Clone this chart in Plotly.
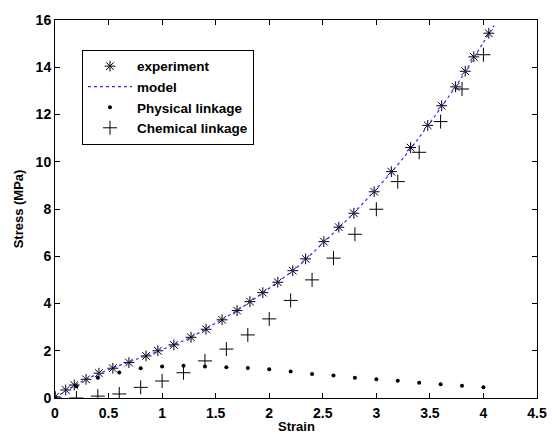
import plotly.graph_objects as go

# experiment (asterisks)
exp_strain = [0.0, 0.1, 0.18, 0.29, 0.41, 0.54, 0.69, 0.85, 0.96, 1.11, 1.27, 1.41, 1.56, 1.70,
              1.82, 1.94, 2.08, 2.22, 2.34, 2.51, 2.65, 2.79, 2.98, 3.14, 3.32, 3.48, 3.61,
              3.74, 3.83, 3.91, 4.05]
exp_stress = [0.05, 0.34, 0.55, 0.79, 1.05, 1.26, 1.50, 1.78, 2.0, 2.25, 2.57, 2.91, 3.31, 3.70,
              4.08, 4.46, 4.90, 5.39, 5.89, 6.62, 7.23, 7.82, 8.73, 9.58, 10.6, 11.54, 12.37,
              13.17, 13.83, 14.44, 15.44]

# model (dotted line)
model_strain = [0.0, 0.25, 0.5, 0.75, 1.0, 1.25, 1.5, 1.75, 2.0, 2.25, 2.5, 2.75, 3.0, 3.25,
                3.5, 3.75, 4.0, 4.1]
model_stress = [0.0, 0.70, 1.20, 1.62, 2.05, 2.53, 3.17, 3.85, 4.65, 5.50, 6.55, 7.65, 8.85,
                10.15, 11.65, 13.25, 15.05, 15.76]

# physical linkage (dots)
phys_strain = [0.0, 0.2, 0.4, 0.6, 0.8, 1.0, 1.2, 1.4, 1.6, 1.8, 2.0, 2.2, 2.4, 2.6, 2.8, 3.0,
               3.2, 3.4, 3.6, 3.8, 4.0]
phys_stress = [0.0, 0.5, 0.86, 1.08, 1.26, 1.33, 1.36, 1.33, 1.30, 1.27, 1.22, 1.12, 1.02, 0.95,
               0.86, 0.79, 0.73, 0.65, 0.58, 0.52, 0.45]

# chemical linkage (crosses)
chem_strain = [0.0, 0.2, 0.4, 0.6, 0.8, 1.0, 1.2, 1.4, 1.6, 1.8, 2.0, 2.2, 2.4, 2.6, 2.8, 3.0,
               3.2, 3.4, 3.6, 3.8, 4.0]
chem_stress = [0.0, 0.0, 0.08, 0.17, 0.45, 0.72, 1.07, 1.57, 2.07, 2.67, 3.35, 4.13, 5.0, 5.92,
               6.93, 7.99, 9.16, 10.4, 11.7, 13.08, 14.53]

x_ticks = [0, 0.5, 1, 1.5, 2, 2.5, 3, 3.5, 4, 4.5]
y_ticks = [0, 2, 4, 6, 8, 10, 12, 14, 16]

FONT = "Liberation Sans, Arial"

fig = go.Figure()
fig.add_trace(go.Scatter(x=exp_strain, y=exp_stress, mode="markers", name="experiment",
                         marker=dict(symbol="asterisk-open", size=9, color="black",
                                     line=dict(color="black", width=1))))
fig.add_trace(go.Scatter(x=model_strain, y=model_stress, mode="lines", name="model",
                         line=dict(color="#2b2bff", width=1.2, dash="dot", shape="spline")))
fig.add_trace(go.Scatter(x=phys_strain, y=phys_stress, mode="markers", name="Physical linkage",
                         marker=dict(symbol="circle", size=4, color="black")))
fig.add_trace(go.Scatter(x=chem_strain, y=chem_stress, mode="markers", name="Chemical linkage",
                         marker=dict(symbol="cross-thin-open", size=10, color="black",
                                     line=dict(color="black", width=1))))

axis_common = dict(showgrid=False, zeroline=False, showline=True, linecolor="black",
                   linewidth=1, mirror="ticks", ticks="inside", ticklen=5, tickcolor="black",
                   automargin=False,
                   tickfont=dict(family=FONT, size=14, color="black", weight="bold"))

fig.update_xaxes(range=[0, 4.5], tickvals=x_ticks,
                 ticktext=[("%g" % v) for v in x_ticks],
                 ticklabelstandoff=2,
                 **axis_common)
fig.update_yaxes(range=[0, 16], tickvals=y_ticks,
                 title=dict(text="Stress (MPa)", standoff=9,
                            font=dict(family=FONT, size=13, color="black", weight="bold")),
                 **axis_common)

fig.add_annotation(text="Strain", xref="paper", yref="paper", x=0.5, y=-0.075,
                   xanchor="center", yanchor="middle", showarrow=False,
                   font=dict(family=FONT, size=13, color="black", weight="bold"))

fig.update_layout(
    width=552, height=434,
    margin=dict(l=55, r=15, t=20, b=36),
    paper_bgcolor="white", plot_bgcolor="white",
    font=dict(family=FONT, color="black"),
    legend=dict(x=0.056, y=0.921, xanchor="left", yanchor="top",
                bordercolor="black", borderwidth=1, bgcolor="white",
                font=dict(family=FONT, size=13.5, color="black", weight="bold"),
                itemwidth=44, tracegroupgap=0),
)

fig.write_html("out.html")
